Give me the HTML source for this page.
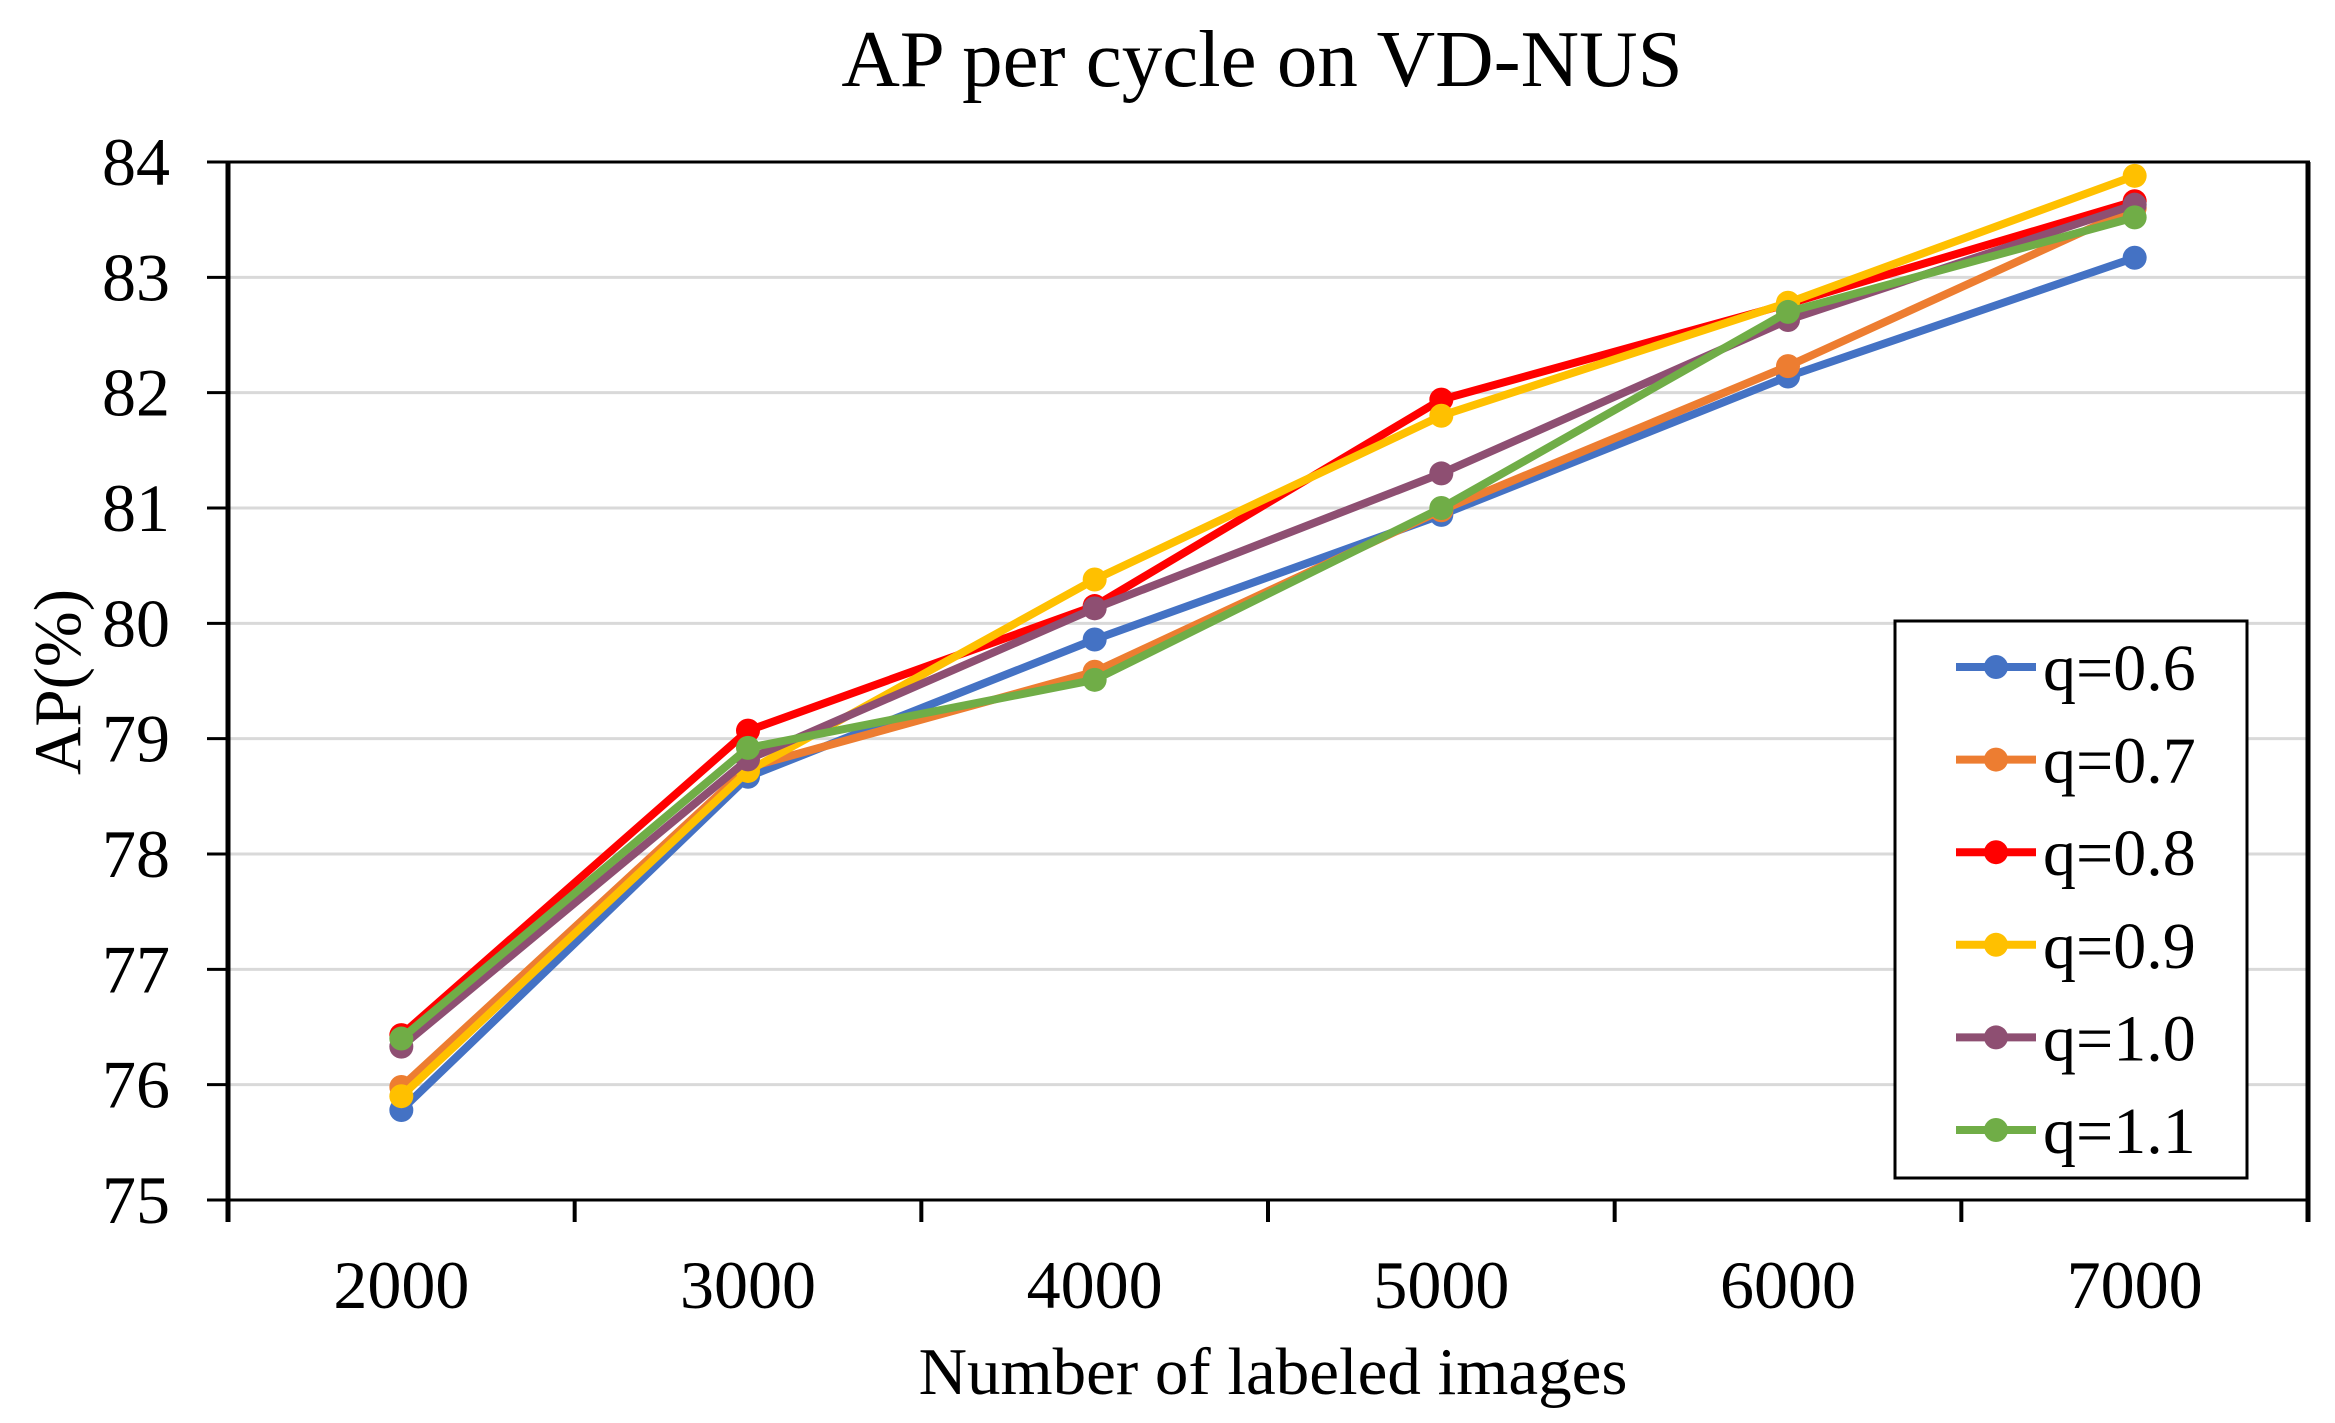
<!DOCTYPE html>
<html><head><meta charset="utf-8"><style>
html,body{margin:0;padding:0;background:#fff;}
svg{display:block;font-family:"Liberation Serif",serif;}
</style></head><body>
<svg id="chart" width="2335" height="1423" viewBox="0 0 2335 1423">
<text x="1262" y="86" font-size="81" text-anchor="middle">AP per cycle on VD-NUS</text>
<g id="grid"></g>
<g id="axes"></g>
<g id="series"></g>
<text x="1273" y="1394" font-size="67" text-anchor="middle">Number of labeled images</text>
<text transform="translate(80,682) rotate(-90)" font-size="67" text-anchor="middle">AP(%)</text>
<g id="legend"></g>
</svg>
<script>
const categories = ["2000","3000","4000","5000","6000","7000"];
const seriesNames = ["q=0.6","q=0.7","q=0.8","q=0.9","q=1.0","q=1.1"];
const seriesColors = ["#4472C4","#ED7D31","#FF0000","#FFC000","#8E4F72","#70AD47"];
const s06 = [75.78,78.67,79.86,80.94,82.14,83.17];
const s07 = [75.98,78.75,79.58,80.98,82.23,83.60];
const s08 = [76.43,79.07,80.15,81.94,82.77,83.66];
const s09 = [75.90,78.72,80.38,81.80,82.78,83.88];
const s10 = [76.33,78.82,80.13,81.30,82.63,83.63];
const s11 = [76.40,78.92,79.51,81.00,82.70,83.52];
const yTicks = [75,76,77,78,79,80,81,82,83,84];
const allSeries = [s06,s07,s08,s09,s10,s11];

const L=228,R=2308,T=162,B=1200,yMin=75,yMax=84;
const NS="http://www.w3.org/2000/svg";
function el(t,a,p){const e=document.createElementNS(NS,t);for(const k in a)e.setAttribute(k,a[k]);p.appendChild(e);return e;}
const bw=(R-L)/categories.length;
function xPos(i){return L+bw*(i+0.5);}
function yPos(v){return B-(v-yMin)/(yMax-yMin)*(B-T);}

const grid=document.getElementById('grid'),axes=document.getElementById('axes'),ser=document.getElementById('series'),leg=document.getElementById('legend');
yTicks.forEach(v=>{
  const y=yPos(v);
  if(v!==yMin&&v!==yMax){const g=el('line',{x1:L,x2:R,y1:y,y2:y,stroke:'#d9d9d9','stroke-width':3},grid);
  
  }
  const tk=el('line',{x1:207,x2:L,y1:y,y2:y,stroke:'#000','stroke-width':3},axes);
  
  
  const t=el('text',{x:170,y:y+23,'font-size':68,'text-anchor':'end'},axes);t.textContent=v;
  
  
});
const topBorder=el('line',{x1:207,x2:R+2,y1:T,y2:T,stroke:'#000','stroke-width':3},axes);


const ya=el('line',{x1:L,x2:L,y1:T,y2:1222,stroke:'#000','stroke-width':5},axes);


const ra=el('line',{x1:R,x2:R,y1:T,y2:1222,stroke:'#000','stroke-width':5},axes);


const xa=el('line',{x1:L,x2:R,y1:B,y2:B,stroke:'#000','stroke-width':3},axes);


for(let i=1;i<categories.length;i++){
  const x=L+bw*i;
  const tk=el('line',{x1:x,x2:x,y1:B,y2:1222,stroke:'#000','stroke-width':4},axes);
  
  
}
categories.forEach((c,i)=>{
  const t=el('text',{x:xPos(i),y:1308,'font-size':68,'text-anchor':'middle'},axes);t.textContent=c;
  
  
});
allSeries.forEach((s,k)=>{
  const g=el('g',{},ser);
  
  
  const pts=s.map((v,i)=>xPos(i)+','+yPos(v)).join(' ');
  const pl=el('polyline',{points:pts,fill:'none',stroke:seriesColors[k],'stroke-width':8,'stroke-linejoin':'round'},g);
  
  
  s.forEach((v,i)=>{
    const c=el('circle',{cx:xPos(i),cy:yPos(v),r:12,fill:seriesColors[k]},g);
    
    
  });
});
const lb=el('rect',{x:1895,y:621,width:352,height:557,fill:'#fff',stroke:'#000','stroke-width':3},leg);


seriesNames.forEach((n,k)=>{
  const y=667+k*92.6;
  const g=el('g',{},leg);
  
  
  el('line',{x1:1956,x2:2036,y1:y,y2:y,stroke:seriesColors[k],'stroke-width':8},g);
  el('circle',{cx:1996,cy:y,r:12,fill:seriesColors[k]},g);
  const t=el('text',{x:2043,y:y+23,'font-size':66},g);t.textContent=n;
});
</script>
</body></html>
